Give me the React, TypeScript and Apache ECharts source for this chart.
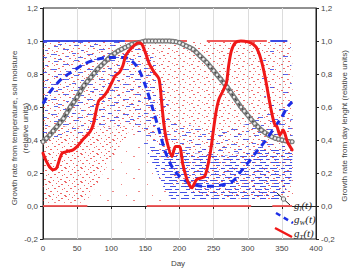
import React, { useEffect, useRef } from "react";
import * as echarts from "echarts";

// Day-length growth factor g_l(t): [day, value]
const dayLengthFactor: number[][] = [
  [0, 0.39], [5, 0.41], [10, 0.43], [15, 0.455], [20, 0.48], [25, 0.505], [30, 0.53],
  [35, 0.565], [40, 0.6], [45, 0.63], [50, 0.66], [55, 0.695], [60, 0.73], [65, 0.755],
  [70, 0.78], [75, 0.805], [80, 0.83], [85, 0.85], [90, 0.87], [95, 0.89], [100, 0.91],
  [105, 0.925], [110, 0.94], [115, 0.95], [120, 0.96], [125, 0.97], [130, 0.98],
  [135, 0.985], [140, 0.99], [145, 0.995], [150, 1.0], [155, 1.0], [160, 1.0], [165, 1.0],
  [170, 1.0], [175, 1.0], [180, 1.0], [185, 1.0], [190, 0.998], [195, 0.995], [200, 0.99],
  [205, 0.98], [210, 0.97], [215, 0.96], [220, 0.95], [225, 0.93], [230, 0.91], [235, 0.89],
  [240, 0.87], [245, 0.845], [250, 0.82], [255, 0.795], [260, 0.77], [265, 0.745],
  [270, 0.72], [275, 0.69], [280, 0.66], [285, 0.63], [290, 0.6], [295, 0.575], [300, 0.55],
  [305, 0.525], [310, 0.5], [315, 0.48], [320, 0.46], [325, 0.445], [330, 0.43],
  [335, 0.42], [340, 0.41], [345, 0.405], [350, 0.4], [355, 0.395], [360, 0.39], [365, 0.39],
];

// Soil-moisture growth factor g_W(t)
const moistureFactor: number[][] = [
  [0, 0.62], [10, 0.69], [20, 0.74], [30, 0.78], [45, 0.82], [60, 0.86], [80, 0.89],
  [100, 0.9], [120, 0.9], [130, 0.88], [140, 0.83], [150, 0.73], [160, 0.6], [170, 0.46],
  [180, 0.32], [190, 0.23], [200, 0.18], [210, 0.15], [220, 0.13], [235, 0.12], [250, 0.12],
  [265, 0.13], [278, 0.15], [290, 0.21], [300, 0.26], [315, 0.34], [325, 0.39], [340, 0.48],
  [350, 0.54], [358, 0.6], [365, 0.63],
];

// Temperature growth factor g_T(t)
const temperatureFactor: number[][] = [
  [0, 0.32], [5, 0.27], [10, 0.235], [15, 0.22], [20, 0.23], [24, 0.28], [28, 0.32],
  [35, 0.33], [44, 0.34], [52, 0.37], [60, 0.41], [69, 0.45], [74, 0.5], [78, 0.58],
  [82, 0.64], [88, 0.66], [95, 0.7], [101, 0.75], [106, 0.79], [112, 0.81], [117, 0.85],
  [121, 0.91], [126, 0.94], [133, 0.97], [140, 0.99], [145, 0.98], [150, 0.93], [156, 0.86],
  [163, 0.81], [170, 0.77], [174, 0.62], [177, 0.5], [181, 0.4], [189, 0.3], [194, 0.36],
  [200, 0.36], [205, 0.25], [212, 0.15], [218, 0.11], [225, 0.16], [237, 0.18], [245, 0.32],
  [250, 0.47], [254, 0.58], [258, 0.65], [264, 0.7], [269, 0.75], [272, 0.85], [276, 0.94],
  [282, 0.99], [290, 1.0], [300, 0.995], [308, 0.98], [314, 0.95], [320, 0.88], [326, 0.77],
  [332, 0.63], [337, 0.53], [340, 0.49], [343, 0.48], [347, 0.43], [352, 0.46], [358, 0.39],
  [365, 0.34],
];

// Outlines of the yearly temperature observations (day, value)
const temperatureDense: number[][] = [
  [0, 0.02], [62, 0.02], [75, 0.1], [88, 0.2], [100, 0.28], [112, 0.36], [125, 0.42],
  [125, 0.48], [0, 0.48],
];
const temperatureSpread: number[][] = [
  [0, 0.48], [0, 1.0], [365, 1.0], [367, 0.05], [330, 0.04], [260, 0.05], [215, 0.08],
  [195, 0.15], [180, 0.28], [165, 0.38], [150, 0.44], [135, 0.45], [125, 0.48],
];
const temperatureThin: number[][] = [
  [62, 0.02], [205, 0.02], [195, 0.15], [180, 0.28], [165, 0.38], [150, 0.44], [135, 0.45],
  [125, 0.42], [112, 0.36], [100, 0.28], [88, 0.2], [75, 0.1],
];

// Outlines of the yearly soil-moisture observations
const moistureSpring: number[][] = [
  [0, 1.0], [140, 1.0], [160, 0.92], [175, 0.75], [185, 0.6], [160, 0.52], [138, 0.46],
  [110, 0.48], [70, 0.45], [30, 0.42], [0, 0.36],
];
const moistureDryLow: number[][] = [
  [150, 0.35], [165, 0.22], [178, 0.1], [190, 0.03], [348, 0.04], [364, 0.15], [366, 0.35],
  [330, 0.35], [260, 0.3], [200, 0.33],
];
const moistureDryHigh: number[][] = [
  [138, 0.46], [160, 0.52], [185, 0.55], [220, 0.48], [260, 0.45], [300, 0.5], [330, 0.58],
  [352, 0.6], [366, 0.5], [366, 0.35], [330, 0.35], [260, 0.3], [200, 0.33], [150, 0.35],
];
const moistureAutumn: number[][] = [
  [330, 0.58], [318, 0.75], [325, 0.95], [340, 1.0], [363, 1.0], [366, 0.5], [352, 0.6],
];

// Runs of observations sitting on the limits: [first day, last day]
const temperatureAtZero = [[0, 65], [152, 305], [336, 365]];
const temperatureAtOne = [[120, 211], [240, 328]];
const moistureAtOne = [[0, 120], [333, 358]];

const RED = "#f01818";
const BLUE = "#1c2ee6";
const SANS = "Liberation Sans, Arial, sans-serif";
const SERIF = "Liberation Serif, Times New Roman, serif";

type Mark = [number, number, number, number];

function tile(w: number, h: number, color: string, marks: Mark[]) {
  const c = document.createElement("canvas");
  c.width = w;
  c.height = h;
  const ctx = c.getContext("2d")!;
  ctx.fillStyle = color;
  marks.forEach(([x, y, mw, mh]) => ctx.fillRect(x, y, mw, mh));
  return { image: c, repeat: "repeat", imageWidth: w, imageHeight: h };
}

function zoneSeries(zones: number[][][], fill: any, z: number) {
  return {
    type: "custom",
    coordinateSystem: "cartesian2d",
    silent: true,
    z,
    data: zones.map((zone, i) => [zone[0][0], zone[0][1], i]),
    renderItem: (params: any, api: any) => {
      const pts = zones[params.dataIndex].map((p) => api.coord(p));
      return { type: "polygon", shape: { points: pts }, style: { fill, stroke: null } };
    },
  };
}

function runSeries(runs: number[][], level: number, color: string) {
  return runs.map(([a, b]) => ({
    type: "line",
    data: [[a, level], [b, level]],
    showSymbol: false,
    silent: true,
    z: 3,
    lineStyle: { color, width: 2 },
  }));
}

function legendLabel(sub: string, y: number) {
  return {
    type: "text",
    x: 294,
    y,
    style: {
      text: `{g|g}{s|${sub}}{g|(t)}`,
      verticalAlign: "middle",
      fill: "#222",
      rich: {
        g: { fontFamily: SERIF, fontStyle: "italic", fontSize: 11, lineHeight: 14, fill: "#222" },
        s: {
          fontFamily: SERIF,
          fontStyle: "italic",
          fontSize: 7,
          lineHeight: 14,
          verticalAlign: "bottom",
          padding: [4, 0, 0, 0],
          fill: "#222",
        },
      },
    },
  };
}

export default function App() {
  const ref = useRef<HTMLDivElement>(null);

  useEffect(() => {
    if (!ref.current) return;
    const chart = echarts.init(ref.current, null, { renderer: "svg" });

    const redDense = tile(16, 14, "rgba(232,52,52,0.75)", [
      [1, 0, 2, 1], [8, 1, 1, 1], [13, 2, 2, 1], [4, 3, 1, 1], [10, 4, 2, 1], [0, 6, 1, 1],
      [6, 6, 2, 1], [14, 7, 1, 1], [2, 9, 2, 1], [9, 9, 1, 1], [12, 11, 2, 1], [5, 12, 1, 1],
      [0, 13, 2, 1], [10, 13, 1, 1],
    ]);
    const redMid = tile(15, 13, "rgba(232,52,52,0.72)", [
      [2, 1, 2, 1], [9, 0, 1, 1], [13, 3, 2, 1], [5, 4, 1, 1], [0, 6, 1, 1], [9, 6, 2, 1],
      [3, 9, 2, 1], [13, 9, 1, 1], [7, 11, 1, 1], [11, 12, 2, 1],
    ]);
    const redThin = tile(26, 22, "rgba(232,52,52,0.6)", [
      [3, 2, 2, 1], [17, 8, 1, 1], [8, 15, 2, 1], [22, 19, 1, 1],
    ]);
    const blueDense = tile(30, 12, "rgba(35,50,225,0.85)", [
      [0, 0, 7, 1], [11, 0, 4, 1], [19, 0, 8, 1],
      [4, 3, 5, 1], [14, 3, 9, 1], [26, 3, 3, 1],
      [1, 6, 8, 1], [12, 6, 3, 1], [20, 6, 6, 1],
      [6, 9, 4, 1], [15, 9, 7, 1], [25, 9, 4, 1],
    ]);
    const blueMid = tile(36, 15, "rgba(35,50,225,0.75)", [
      [2, 0, 5, 1], [18, 1, 4, 1], [27, 4, 6, 1], [9, 5, 3, 1], [0, 8, 4, 1], [15, 9, 6, 1],
      [30, 11, 3, 1], [6, 12, 5, 1], [22, 14, 4, 1],
    ]);
    const blueThin = tile(40, 18, "rgba(35,50,225,0.75)", [
      [3, 2, 5, 1], [22, 6, 4, 1], [10, 11, 6, 1], [30, 15, 4, 1],
    ]);

    const fmt = (v: number) => v.toFixed(1).replace(".", ",");
    const yAxisBase = {
      type: "value",
      min: -0.2,
      max: 1.2,
      interval: 0.2,
      axisLine: { show: true, lineStyle: { color: "#222", width: 1 } },
      axisTick: { show: true, length: 3, lineStyle: { color: "#222" } },
      axisLabel: { fontSize: 8, color: "#444", fontFamily: SANS, margin: 5, formatter: fmt },
      splitLine: { show: false },
    };

    chart.setOption({
      animation: false,
      backgroundColor: "#fff",
      grid: {
        left: 43,
        right: 38,
        top: 8,
        bottom: 31,
        show: true,
        borderColor: "#222",
        borderWidth: 1,
      },
      xAxis: {
        type: "value",
        min: 0,
        max: 400,
        interval: 50,
        axisLine: { show: true, lineStyle: { color: "#222", width: 1 } },
        axisTick: { show: true, length: 3, lineStyle: { color: "#222" } },
        axisLabel: { fontSize: 8, color: "#444", fontFamily: SANS, margin: 5 },
        splitLine: { show: true, lineStyle: { color: "#dcdcdc", width: 1 } },
      },
      yAxis: [
        { ...yAxisBase, position: "left" },
        { ...yAxisBase, position: "right" },
      ],
      series: [
        zoneSeries([temperatureDense], redDense, 1),
        zoneSeries([temperatureSpread], redMid, 1),
        zoneSeries([temperatureThin], redThin, 1),
        zoneSeries([moistureSpring, moistureDryHigh], blueMid, 2),
        zoneSeries([moistureDryLow], blueDense, 2),
        zoneSeries([moistureAutumn], blueThin, 2),
        ...runSeries(temperatureAtZero, 0, "rgba(238,80,80,0.9)"),
        ...runSeries(temperatureAtOne, 1, "rgba(238,70,70,0.9)"),
        ...runSeries(moistureAtOne, 1, "rgba(40,55,225,0.9)"),
        // g_l band: grey body of the closely spaced daily markers
        {
          type: "line",
          data: dayLengthFactor,
          z: 4,
          silent: true,
          showSymbol: false,
          lineStyle: { color: "#808080", width: 5, cap: "round", join: "round" },
        },
        {
          name: "gl",
          type: "line",
          data: dayLengthFactor,
          z: 5,
          symbol: "circle",
          symbolSize: 3.5,
          showSymbol: true,
          itemStyle: { color: "#ececec", borderColor: "#4a4a4a", borderWidth: 0.6 },
          lineStyle: { color: "#222", width: 0.8 },
        },
        {
          name: "gW",
          type: "line",
          data: moistureFactor,
          z: 6,
          smooth: 0.3,
          showSymbol: false,
          lineStyle: { color: BLUE, width: 3, type: [7, 5], cap: "butt" },
        },
        {
          name: "gT",
          type: "line",
          data: temperatureFactor,
          z: 7,
          smooth: 0.25,
          showSymbol: false,
          lineStyle: { color: RED, width: 3, join: "round", cap: "round" },
        },
      ],
      graphic: [
        {
          type: "text",
          x: 14,
          y: 128,
          rotation: Math.PI / 2,
          style: {
            text: "Growth rate from temperature, soil moisture",
            fontSize: 8,
            fontFamily: SANS,
            fill: "#444",
            align: "center",
            verticalAlign: "middle",
          },
        },
        {
          type: "text",
          x: 25.5,
          y: 128,
          rotation: Math.PI / 2,
          style: {
            text: "(relative units)",
            fontSize: 8,
            fontFamily: SANS,
            fill: "#444",
            align: "center",
            verticalAlign: "middle",
          },
        },
        {
          type: "text",
          x: 344,
          y: 126,
          rotation: Math.PI / 2,
          style: {
            text: "Growth rate from day lenght (relative units)",
            fontSize: 8,
            fontFamily: SANS,
            fill: "#444",
            align: "center",
            verticalAlign: "middle",
          },
        },
        {
          type: "text",
          x: 178,
          y: 263,
          style: {
            text: "Day",
            fontSize: 8,
            fontFamily: SANS,
            fill: "#444",
            align: "center",
            verticalAlign: "middle",
          },
        },
        // legend keys
        {
          type: "line",
          z: 20,
          shape: { x1: 277, y1: 193, x2: 290, y2: 205 },
          style: { stroke: "#222", lineWidth: 1 },
        },
        {
          type: "circle",
          z: 21,
          shape: { cx: 283.5, cy: 199, r: 2.2 },
          style: { fill: "#eee", stroke: "#444", lineWidth: 0.8 },
        },
        {
          type: "line",
          z: 20,
          shape: { x1: 276, y1: 213, x2: 293, y2: 223 },
          style: { stroke: BLUE, lineWidth: 2.5, lineDash: [5, 4] },
        },
        {
          type: "line",
          z: 20,
          shape: { x1: 275, y1: 228, x2: 292, y2: 237 },
          style: { stroke: RED, lineWidth: 2.5 },
        },
        { ...legendLabel("l", 205), z: 20 },
        { ...legendLabel("W", 219), z: 20 },
        { ...legendLabel("T", 233), z: 20 },
      ],
    });

    return () => chart.dispose();
  }, []);

  return (
    <div
      ref={ref}
      style={{ position: "fixed", left: 0, top: 0, width: 354, height: 270, background: "#fff" }}
    />
  );
}
